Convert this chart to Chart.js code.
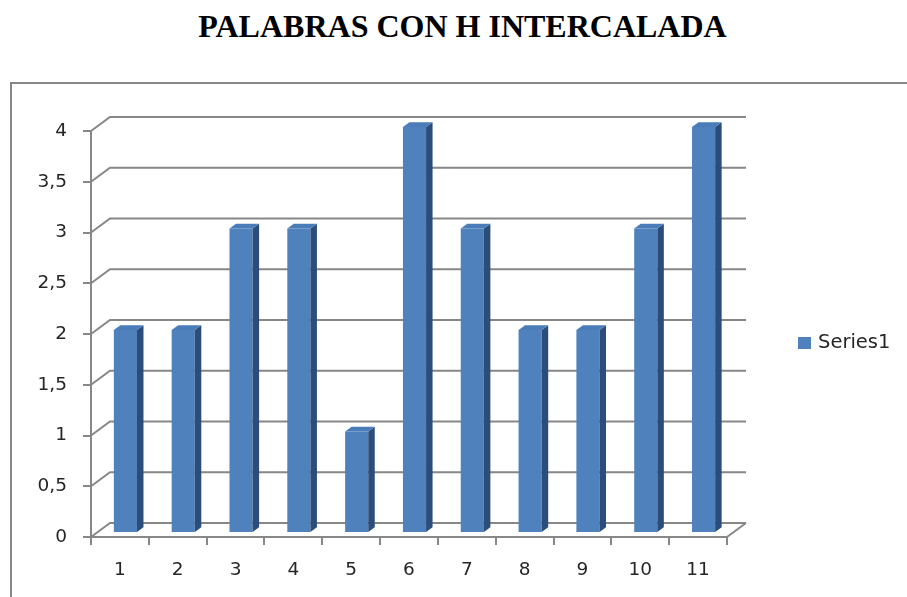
<!DOCTYPE html>
<html>
<head>
<meta charset="utf-8">
<script src="https://cdn.jsdelivr.net/npm/chart.js@4/dist/chart.umd.min.js"></script>
<style>
    body { margin: 0; background: #fff; }
    .title {
        position: absolute; left: 0; top: 10px; width: 925px;
        text-align: center; font: bold 32px "Liberation Serif", serif;
        line-height: 32px; color: #000;
    }
    .frame {
        position: absolute; left: 10px; top: 82px; width: 1000px; height: 600px;
        border: 2px solid #878787;
    }
    .wrap { position: absolute; left: 0; top: 0; width: 907px; height: 597px; }
</style>
</head>
<body>
<div class="title">PALABRAS CON H INTERCALADA</div>
<div class="frame"></div>
<div class="wrap"><canvas id="chart"></canvas></div>
<script>
// chart data
const categories = ['1', '2', '3', '4', '5', '6', '7', '8', '9', '10', '11'];
const series1 = [2, 2, 3, 3, 1, 4, 3, 2, 2, 3, 4];
const yTicks = [0, 0.5, 1, 1.5, 2, 2.5, 3, 3.5, 4];

const GRID = '#878787';
const FONT = { family: 'DejaVu Sans', size: 18.5 };
const DX = 19, DY = 14;          // depth of the back wall
const BAR_SHIFT = 5.5;           // bars sit a bit behind the front edge
const BAR_DEPTH = 6.5;

// draws the pseudo 3D wall, floor, bar sides and the legend
const depthPlugin = {
    id: 'depth',
    beforeDatasetsDraw(chart) {
        const ctx = chart.ctx;
        const y = chart.scales.y;
        const area = chart.chartArea;
        ctx.save();
        ctx.strokeStyle = GRID;
        ctx.lineWidth = 2;
        yTicks.forEach(v => {
            const py = y.getPixelForValue(v);
            ctx.beginPath();
            ctx.moveTo(area.left, py);
            ctx.lineTo(area.left + DX, py - DY);
            ctx.lineTo(area.right + DX, py - DY);
            ctx.stroke();
        });
        // right edge of the floor
        ctx.beginPath();
        ctx.moveTo(area.right, area.bottom);
        ctx.lineTo(area.right + DX, area.bottom - DY);
        ctx.stroke();
        ctx.restore();

        ctx.save();
        ctx.translate(BAR_SHIFT, -BAR_SHIFT * DY / DX);
    },
    afterDatasetsDraw(chart) {
        const ctx = chart.ctx;
        const k = DY / DX;
        const d = BAR_DEPTH;
        chart.getDatasetMeta(0).data.forEach(bar => {
            const l = bar.x - bar.width / 2;
            const r = bar.x + bar.width / 2;
            // side
            ctx.fillStyle = '#2c4d7a';
            ctx.beginPath();
            ctx.moveTo(r, bar.y);
            ctx.lineTo(r + d, bar.y - d * k);
            ctx.lineTo(r + d, bar.base - d * k);
            ctx.lineTo(r, bar.base);
            ctx.closePath();
            ctx.fill();
            // top
            ctx.fillStyle = '#4a7cba';
            ctx.beginPath();
            ctx.moveTo(l, bar.y);
            ctx.lineTo(r, bar.y);
            ctx.lineTo(r + d, bar.y - d * k);
            ctx.lineTo(l + d, bar.y - d * k);
            ctx.closePath();
            ctx.fill();
        });
        ctx.restore();

        // legend
        const ds = chart.data.datasets[0];
        ctx.save();
        ctx.fillStyle = ds.backgroundColor;
        ctx.fillRect(798, 337, 13, 12);
        ctx.fillStyle = '#262626';
        ctx.font = `19.5px ${FONT.family}`;
        ctx.textBaseline = 'middle';
        ctx.fillText(ds.label, 818, 343);
        ctx.restore();
    }
};

const ctx = document.getElementById('chart').getContext('2d');
new Chart(ctx, {
    type: 'bar',
    data: {
        labels: categories,
        datasets: [{
            label: 'Series1',
            data: series1,
            backgroundColor: '#4f81bd',
            barPercentage: 0.4,
            categoryPercentage: 1
        }]
    },
    options: {
        responsive: true,
        maintainAspectRatio: false,
        animation: false,
        layout: { padding: { left: 0, top: 131, right: 180, bottom: 0 } },
        plugins: {
            legend: { display: false },
            tooltip: { enabled: false }
        },
        scales: {
            x: {
                afterFit: scale => { scale.height = 60; },
                grid: { drawOnChartArea: false, tickLength: 8, color: GRID, lineWidth: 2 },
                border: { color: GRID, width: 2 },
                ticks: { font: FONT, color: '#262626', padding: 14, maxRotation: 0 }
            },
            y: {
                min: 0,
                max: 4,
                afterFit: scale => { scale.width = 91; },
                grid: { drawOnChartArea: false, tickLength: 8, color: GRID, lineWidth: 2 },
                border: { color: GRID, width: 2 },
                ticks: {
                    stepSize: 0.5,
                    font: FONT,
                    color: '#262626',
                    padding: 16,
                    callback: v => String(v).replace('.', ',')
                }
            }
        }
    },
    plugins: [depthPlugin]
});
</script>
</body>
</html>
